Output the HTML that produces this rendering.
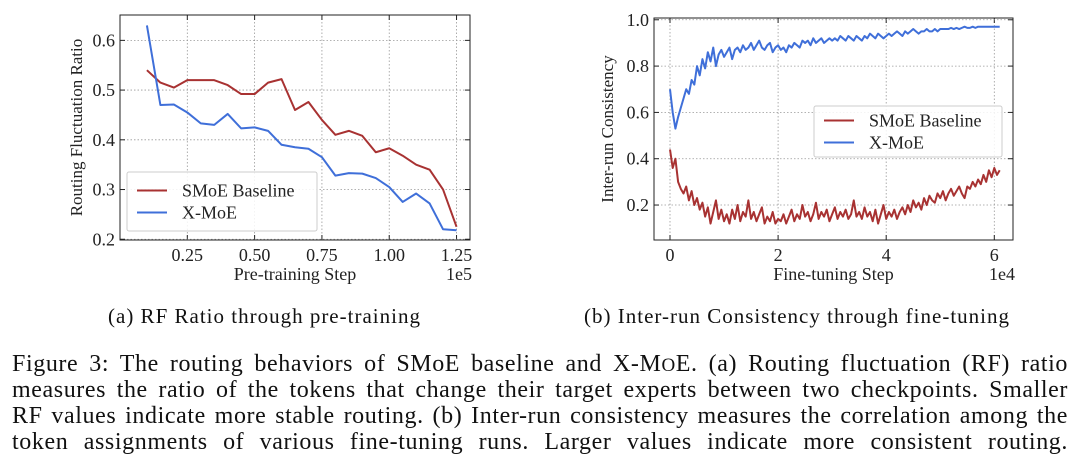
<!DOCTYPE html>
<html><head><meta charset="utf-8"><style>
body{margin:0;background:#fff;width:1080px;height:471px;overflow:hidden;font-family:"Liberation Serif",serif;}
svg{position:absolute;left:0;top:0}
.cap{position:absolute;left:12px;width:1056px;font-size:24px;letter-spacing:0.6px;top:351px;color:#111}
.cap div{height:26px;line-height:26px;text-align:justify;text-align-last:justify;white-space:nowrap;}
.sub{position:absolute;font-size:21px;letter-spacing:1px;top:304px;color:#111}
</style></head><body>
<svg id="fig" width="1080" height="300" font-family="Liberation Serif, serif" fill="#222"></svg>
<div class="sub" style="left:108px">(a) RF Ratio through pre-training</div>
<div class="sub" style="left:584px">(b) Inter-run Consistency through fine-tuning</div>
<div class="cap">
<div>Figure 3: The routing behaviors of SMoE baseline and X-M<span style="font-size:19px">O</span>E. (a) Routing fluctuation (RF) ratio</div>
<div>measures the ratio of the tokens that change their target experts between two checkpoints. Smaller</div>
<div>RF values indicate more stable routing. (b) Inter-run consistency measures the correlation among the</div>
<div>token assignments of various fine-tuning runs. Larger values indicate more consistent routing.</div>
</div>
<script>
const leftX=[0.10,0.15,0.20,0.25,0.30,0.35,0.40,0.45,0.50,0.55,0.60,0.65,0.70,0.75,0.80,0.85,0.90,0.95,1.00,1.05,1.10,1.15,1.20,1.25];
const leftSmoe=[0.54,0.515,0.505,0.52,0.52,0.52,0.51,0.492,0.492,0.515,0.522,0.46,0.476,0.44,0.41,0.418,0.408,0.375,0.383,0.368,0.35,0.34,0.30,0.225];
const leftXmoe=[0.63,0.47,0.471,0.455,0.433,0.43,0.452,0.423,0.425,0.418,0.39,0.385,0.382,0.365,0.328,0.333,0.332,0.323,0.305,0.275,0.292,0.272,0.22,0.218];
const leftXTicks=[0.25,0.50,0.75,1.00,1.25];
const leftYTicks=[0.2,0.3,0.4,0.5,0.6];
const rightXmoe=[0.70,0.60,0.53,0.58,0.62,0.66,0.70,0.68,0.74,0.72,0.80,0.76,0.83,0.79,0.86,0.82,0.88,0.80,0.85,0.87,0.84,0.86,0.88,0.83,0.87,0.88,0.86,0.89,0.87,0.88,0.90,0.87,0.89,0.91,0.88,0.87,0.89,0.90,0.86,0.88,0.89,0.87,0.88,0.86,0.89,0.88,0.90,0.89,0.88,0.91,0.90,0.91,0.89,0.92,0.90,0.91,0.92,0.90,0.91,0.92,0.91,0.92,0.91,0.93,0.92,0.91,0.93,0.92,0.91,0.93,0.92,0.91,0.93,0.92,0.94,0.93,0.92,0.94,0.93,0.92,0.93,0.94,0.93,0.94,0.95,0.94,0.93,0.95,0.94,0.95,0.96,0.95,0.94,0.95,0.95,0.96,0.95,0.95,0.96,0.95,0.96,0.96,0.96,0.96,0.965,0.96,0.965,0.96,0.965,0.97,0.965,0.965,0.97,0.965,0.97,0.97,0.97,0.97,0.97,0.97,0.97,0.97,0.97];
const rightSmoe=[0.44,0.36,0.40,0.30,0.27,0.25,0.28,0.22,0.26,0.20,0.23,0.18,0.21,0.15,0.19,0.12,0.17,0.22,0.14,0.18,0.13,0.16,0.12,0.18,0.14,0.20,0.13,0.17,0.15,0.22,0.14,0.17,0.13,0.16,0.19,0.12,0.15,0.13,0.17,0.12,0.14,0.13,0.16,0.12,0.15,0.18,0.13,0.16,0.14,0.20,0.15,0.17,0.13,0.16,0.21,0.14,0.17,0.15,0.18,0.13,0.16,0.19,0.14,0.17,0.15,0.18,0.14,0.16,0.22,0.15,0.17,0.14,0.19,0.15,0.17,0.13,0.18,0.12,0.16,0.20,0.14,0.17,0.15,0.18,0.14,0.17,0.19,0.16,0.20,0.17,0.22,0.19,0.21,0.18,0.23,0.20,0.24,0.22,0.21,0.25,0.23,0.26,0.22,0.25,0.27,0.24,0.26,0.28,0.25,0.23,0.28,0.27,0.30,0.28,0.31,0.29,0.33,0.30,0.35,0.32,0.36,0.33,0.35];
const rightXTicks=[0,2,4,6];
const rightYTicks=[0.2,0.4,0.6,0.8,1.0];
const RED='#a83232',BLUE='#3f6fd9';
const svg=document.getElementById('fig');const NS='http://www.w3.org/2000/svg';
function el(t,a,txt){const e=document.createElementNS(NS,t);for(const k in a)e.setAttribute(k,a[k]);if(txt!==undefined)e.textContent=txt;svg.appendChild(e);return e;}
function panel(p){
 const sx=v=>p.x0+(v-p.xmin)/(p.xmax-p.xmin)*(p.x1-p.x0);
 const sy=v=>p.y1-(v-p.ymin)/(p.ymax-p.ymin)*(p.y1-p.y0);
 p.xt.forEach(t=>{const x=sx(t);
  let g=el('line',{x1:x,x2:x,y1:p.y0,y2:p.y1,stroke:'#999','stroke-dasharray':'1.5,2','stroke-width':0.8});
  
  el('line',{x1:x,x2:x,y1:p.y1,y2:p.y1-5,stroke:'#222'});el('line',{x1:x,x2:x,y1:p.y0,y2:p.y0+5,stroke:'#222'});
  let l=el('text',{x:x,y:p.y1+21,'font-size':18,'text-anchor':'middle'},p.xfmt(t));
  });
 p.yt.forEach(t=>{const y=sy(t);
  let g=el('line',{x1:p.x0,x2:p.x1,y1:y,y2:y,stroke:'#999','stroke-dasharray':'1.5,2','stroke-width':0.8});
  
  el('line',{x1:p.x0,x2:p.x0+5,y1:y,y2:y,stroke:'#222'});el('line',{x1:p.x1,x2:p.x1-5,y1:y,y2:y,stroke:'#222'});
  let l=el('text',{x:p.x0-5,y:y+6,'font-size':18,'text-anchor':'end'},t.toFixed(1));
  });
 p.series.forEach(s=>{const n=s.v.length;
  const pts=s.v.map((v,i)=>sx(s.x?s.x[i]:p.xmin2+(p.xmax2-p.xmin2)*i/(n-1))+','+sy(v)).join(' ');
  let l=el('polyline',{points:pts,fill:'none',stroke:s.c,'stroke-width':2,'stroke-linejoin':'round'});
  });
 let f=el('rect',{x:p.x0,y:p.y0,width:p.x1-p.x0,height:p.y1-p.y0,fill:'none',stroke:'#222','stroke-width':1});
 
 let xl=el('text',{x:(p.x0+p.x1)/2,y:p.y1+40,'font-size':18,'text-anchor':'middle'},p.xlabel);
 
 let ex=el('text',{x:p.x1+2,y:p.y1+40,'font-size':18,'text-anchor':'end'},p.exp);
 
 let yl=el('text',{x:0,y:0,'font-size':17,'text-anchor':'middle',transform:`translate(${p.ylx},${(p.y0+p.y1)/2}) rotate(-90)`},p.ylabel);
 
 const L=p.leg;let lb=el('rect',{x:L.x,y:L.y,width:L.w,height:L.h,fill:'#fff','fill-opacity':0.85,stroke:'#ccc',rx:2});
 
 p.series.forEach((s,i)=>{const y=L.y+L.h/2-11+i*22;
  let ln=el('line',{x1:L.x+10,x2:L.x+40,y1:y,y2:y,stroke:s.c,'stroke-width':2});
  
  let t=el('text',{x:L.x+55,y:y+6,'font-size':18},s.label);
  });
}
panel({x0:120,x1:470,y0:15,y1:240,xmin:0,xmax:1.3,ymin:0.1985,ymax:0.651,xt:leftXTicks,yt:leftYTicks,xfmt:t=>t.toFixed(2),
 xlabel:'Pre-training Step',exp:'1e5',ylabel:'Routing Fluctuation Ratio',ylx:82,
 series:[{v:leftSmoe,x:leftX,c:RED,label:'SMoE Baseline',name:'smoe-line-pretrain'},{v:leftXmoe,x:leftX,c:BLUE,label:'X-MoE',name:'xmoe-line-pretrain'}],
 leg:{x:127,y:172,w:190,h:59}});
panel({x0:654,x1:1013,y0:18,y1:240,xmin:-0.296,xmax:6.346,ymin:0.049,ymax:1.0077,xt:rightXTicks,yt:rightYTicks,xfmt:t=>String(t),
 xmin2:0,xmax2:6.1,
 xlabel:'Fine-tuning Step',exp:'1e4',ylabel:'Inter-run Consistency',ylx:613,
 series:[{v:rightSmoe,c:RED,label:'SMoE Baseline',name:'smoe-line-finetune'},{v:rightXmoe,c:BLUE,label:'X-MoE',name:'xmoe-line-finetune'}],
 leg:{x:814,y:106,w:188,h:51}});
</script>
</body></html>
